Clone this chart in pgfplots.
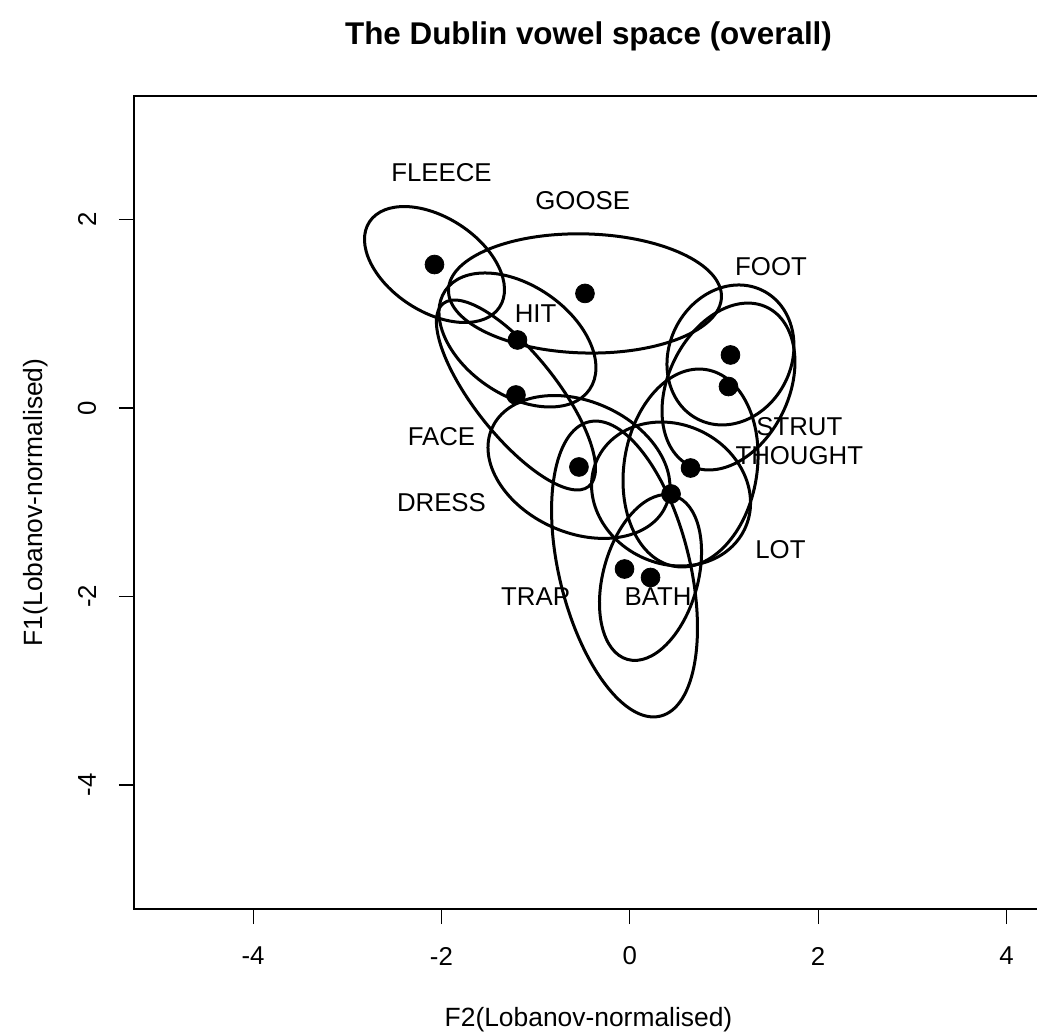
\documentclass[border=0pt]{standalone}
\usepackage{fontspec}
\setmainfont{Liberation Sans}
\usepackage{pgfplots}
\pgfplotsset{compat=1.18}

% ellipse around a vowel mean: cx, cy, angle, semi-major, semi-minor
\newcommand{\vowelell}[5]{%
  \draw[line width=1.5pt, rotate around={#3:(axis cs:#1,#2)}]
    (axis cs:#1,#2) ellipse [x radius=#4, y radius=#5];}

\begin{document}
\begin{tikzpicture}
\begin{axis}[
  scale only axis,
  width=454.5pt, height=406.65pt,
  xmin=-5.265, xmax=4.388,
  ymin=-5.317, ymax=3.316,
  xtick={-4,-2,0,2,4},
  ytick={-4,-2,0,2},
  tick pos=left,
  tick align=outside,
  major tick length=7.5pt,
  tick style={black, line width=0.6pt},
  axis line style={black, line width=1pt},
  /pgf/number format/assume math mode=true,
  ticklabel style={font=\fontsize{12.9}{15}\selectfont},
  xticklabel style={anchor=center, yshift=-16pt},
  yticklabel style={anchor=center, xshift=-16pt, rotate=90},
  xlabel={F2(Lobanov-normalised)},
  ylabel={F1(Lobanov-normalised)},
  label style={font=\fontsize{13.2}{16}\selectfont},
  xlabel style={at={(axis description cs:0.5,-0.1365)}, anchor=center},
  ylabel style={at={(axis description cs:-0.108,0.5)}, anchor=center},
  title={The Dublin vowel space (overall)},
  title style={font=\fontsize{15.7}{19}\selectfont\bfseries,
    at={(axis description cs:0.5,1)}, anchor=base, yshift=19.8pt},
  clip=false,
]
% ellipses
\vowelell{-2.074}{1.524}{-33.2}{0.826}{0.499}  % FLEECE
\vowelell{-0.476}{1.217}{-1.5}{1.450}{0.632}   % GOOSE
\vowelell{-1.193}{0.723}{-34.5}{0.929}{0.581}  % HIT
\vowelell{-1.209}{0.139}{-51.5}{1.241}{0.436}  % FACE
\vowelell{1.069}{0.564}{63.3}{0.765}{0.649}    % FOOT
\vowelell{1.048}{0.229}{64}{0.935}{0.639}      % STRUT
\vowelell{-0.540}{-0.625}{-24.1}{1.011}{0.697} % DRESS
\vowelell{0.645}{-0.636}{81}{1.058}{0.706}     % THOUGHT
\vowelell{0.438}{-0.912}{-25.5}{0.866}{0.739}  % LOT
\vowelell{-0.056}{-1.708}{-76.3}{1.608}{0.694} % TRAP
\vowelell{0.220}{-1.798}{74.3}{0.904}{0.502}   % BATH

% vowel means
\addplot[only marks, mark=*, mark size=4.7pt, black] coordinates {
  (-2.074,1.524) (-0.476,1.217) (-1.193,0.723) (-1.209,0.139)
  (1.069,0.564) (1.048,0.229) (-0.540,-0.625) (0.645,-0.636)
  (0.438,-0.912) (-0.056,-1.708) (0.220,-1.798)
};

% labels
\begin{scope}[every node/.style={font=\fontsize{12.9}{15}\selectfont, inner sep=0pt}]
\node at (axis cs:-2.0,2.5) {FLEECE};
\node at (axis cs:-0.5,2.2) {GOOSE};
\node at (axis cs:-1.0,1.0) {HIT};
\node at (axis cs:-2.0,-0.3) {FACE};
\node at (axis cs:1.5,1.5) {FOOT};
\node at (axis cs:1.8,-0.2) {STRUT};
\node at (axis cs:1.8,-0.5) {THOUGHT};
\node at (axis cs:-2.0,-1.0) {DRESS};
\node at (axis cs:1.6,-1.5) {LOT};
\node at (axis cs:-1.0,-2.0) {TRAP};
\node at (axis cs:0.3,-2.0) {BATH};
\end{scope}
\end{axis}
\pgfresetboundingbox
\path[use as bounding box] (-67pt,-62pt) rectangle (451.5pt,454.5pt);
\end{tikzpicture}
\end{document}
